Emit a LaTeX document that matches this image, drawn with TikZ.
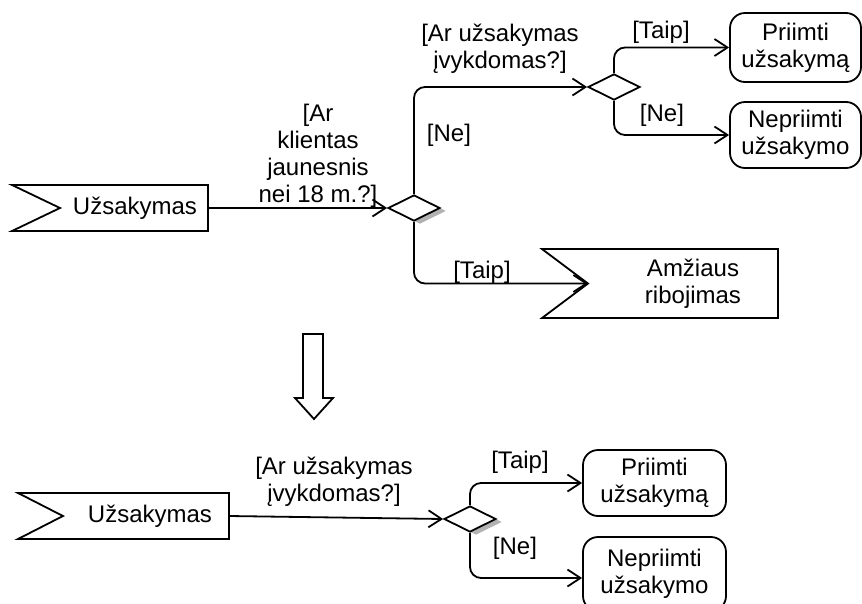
\documentclass[tikz,border=0pt]{standalone}
\usepackage{fontspec}
\setmainfont{Liberation Sans}
\usetikzlibrary{arrows.meta,shapes.geometric,shadows}
\begin{document}
\begin{tikzpicture}[x=1pt,y=-1pt,
  every node/.style={font=\fontsize{24}{27}\selectfont, inner sep=0pt, align=center},
  outline/.style={draw=black, line width=1.8pt, line join=miter},
  flow/.style={draw=black, line width=1.8pt, rounded corners=11pt,
    -{Straight Barb[length=13pt,width=17pt,line width=1.8pt]}},
  decision/.style={diamond, draw=black, fill=white, line width=1.8pt,
    minimum width=52pt, minimum height=26pt, aspect=2},
  shaded/.style={drop shadow={shadow xshift=6pt, shadow yshift=-3pt,
    fill=black!30, opacity=1}},
  action/.style={rectangle, rounded corners=15pt, draw=black, line width=1.8pt},
]
\useasboundingbox (0,0) rectangle (862,603);

% ---------- upper diagram ----------
% incoming event "Užsakymas"
\draw[outline] (12,185) -- (208,185) -- (208,231) -- (12,231) -- (60,208) -- cycle;
\node (ev1) at (135,208) {Užsakymas};
\coordinate (ev1-out) at (208,208);

% age check
\node[decision, shaded] (d1) at (414,208) {};
\node (g1) at (318,155.5) {[Ar\\klientas\\jaunesnis\\nei 18 m.?]};
\draw[flow] (ev1-out) -- (d1.west);

% order feasibility check
\node[decision] (d2) at (614,87) {};
\node (g2) at (500,48.5) {[Ar užsakymas\\įvykdomas?]};
\draw[flow] (d1.north) |- (d2.west);
\node (g1no) at (449,135) {[Ne]};

% actions
\node[action, minimum width=131pt, minimum height=69pt] (ok1) at (795.5,47.5) {Priimti\\užsakymą};
\node[action, minimum width=131pt, minimum height=66pt] (no1) at (795.5,135) {Nepriimti\\užsakymo};
\draw[flow] (d2.north) |- (ok1.west);
\draw[flow] (d2.south) |- (no1.west);
\node (g2yes) at (661,32) {[Taip]};
\node (g2no) at (662,115) {[Ne]};

% outgoing event "Amžiaus ribojimas"
\draw[outline] (542,249) -- (778,249) -- (778,318) -- (542,318) -- (588,283.5) -- cycle;
\node (ev2) at (693,284) {Amžiaus\\ribojimas};
\coordinate (ev2-in) at (588,283.5);
\draw[flow] (d1.south) |- (ev2-in);
\node (g1yes) at (482,272) {[Taip]};

% ---------- transformation arrow ----------
\draw[outline] (303,334) -- (323,334) -- (323,398) -- (333,398) -- (314,419)
  -- (295,398) -- (303,398) -- cycle;

% ---------- lower diagram ----------
\draw[outline] (18,493) -- (229,493) -- (229,539) -- (18,539) -- (63,516) -- cycle;
\node (ev3) at (150,516) {Užsakymas};
\coordinate (ev3-out) at (229,516);

\node[decision, shaded] (d3) at (470,519) {};
\node (g3) at (334,481.5) {[Ar užsakymas\\įvykdomas?]};
\draw[flow] (ev3-out) -- (d3.west);

\node[action, minimum width=143pt, minimum height=66pt] (ok2) at (654.5,483) {Priimti\\užsakymą};
\node[action, minimum width=143pt, minimum height=74pt] (no2) at (654.5,574) {Nepriimti\\užsakymo};
\draw[flow] (d3.north) |- (ok2.west);
\draw[flow] (d3.south) |- ([yshift=-4pt]no2.west);
\node (g3yes) at (520,462) {[Taip]};
\node (g3no) at (515,548) {[Ne]};
\end{tikzpicture}
\end{document}
